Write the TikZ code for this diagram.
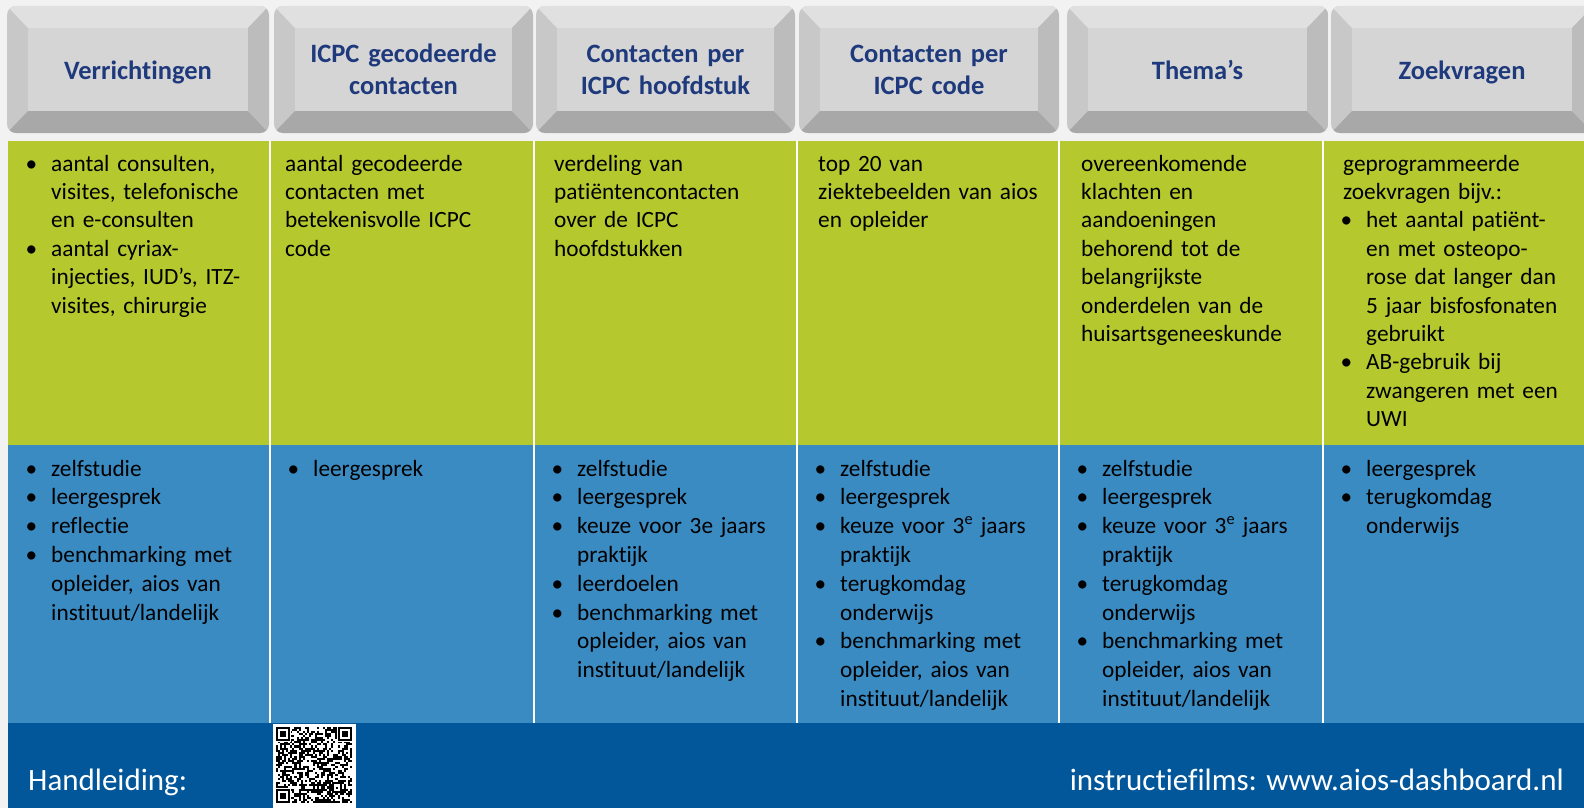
\documentclass[tikz,border=0pt]{standalone}
\usepackage{fontspec}
\setmainfont{Carlito}[Ligatures={NoCommon}]
\usetikzlibrary{calc}
\definecolor{bgc}{HTML}{F2F2F2}
\definecolor{greenc}{HTML}{B5C92F}
\definecolor{bluec}{HTML}{3B8BC3}
\definecolor{darkc}{HTML}{02569A}
\definecolor{navy}{HTML}{1F3A7C}
\definecolor{keyface}{HTML}{D5D5D5}
\definecolor{keytop}{HTML}{E0E0E0}
\definecolor{keyleft}{HTML}{C8C8C8}
\definecolor{keyright}{HTML}{BCBCBC}
\definecolor{keybot}{HTML}{A8A8A8}
\newcommand\bodyfnt{\fontsize{23.3}{28.4}\selectfont\parskip=0pt\relax}
\newcommand\bluefnt{\fontsize{23.3}{28.8}\selectfont\parskip=0pt\relax}
\newcommand\hdrfnt{\fontsize{26.5}{31.5}\selectfont\bfseries\parskip=0pt\relax}
\newlength\bulind \setlength\bulind{23pt}
\newcommand\nl{\hfil\break}
\newcommand\bulbox{\hbox to\bulind{\kern-2.6pt\textbullet\hfil}}
\newcommand\bula{\noindent\hangindent=\bulind\hangafter=1\bulbox}
\newcommand\bul{\par\noindent\hangindent=\bulind\hangafter=1\bulbox}
\newcommand\keycap[3]{%
  \begin{scope}
    \clip[rounded corners=9pt] (#1,6) rectangle (#2,133);
    \fill[keyleft] (#1,6) rectangle (#2,133);
    \fill[keytop] (#1,6) -- (#2,6) -- (#2-21,28) -- (#1+21,28) -- cycle;
    \fill[keybot] (#1,133) -- (#2,133) -- (#2-21,111) -- (#1+21,111) -- cycle;
    \fill[keyright] (#2,6) -- (#2-21,28) -- (#2-21,111) -- (#2,133) -- cycle;
    \fill[keyface] (#1+21,28) rectangle (#2-21,111);
  \end{scope}}
\tikzset{
  hdr/.style={font=\hdrfnt, text=navy, align=center, text width=240pt, inner sep=0pt, anchor=base},
  cell/.style={font=\bodyfnt, text=black, align=left, text width=250pt, inner sep=0pt, anchor=base west},
  bcell/.style={cell, font=\bluefnt},
  foot/.style={font=\fontsize{31}{36}\selectfont, text=white, inner sep=0pt},
  divider/.style={white, line width=2pt}
}
\begin{document}
\begin{tikzpicture}[x=1pt,y=-1pt]
\useasboundingbox (0,0) rectangle (1584,808);
\fill[bgc] (0,0) rectangle (1584,808);
% bands
\fill[greenc] (8,141) rectangle (1584,445);
\fill[bluec] (8,445) rectangle (1584,723);
\fill[darkc] (8,723) rectangle (1584,808);
% dividers
\foreach \x/\n in {270/d1,534/d2,797/d3,1059/d4,1323/d5}{
  \coordinate (\n t) at (\x,141);
  \coordinate (\n b) at (\x,723);
  \draw[divider] (\n t) -- (\n b);
}
% key caps
\keycap{7}{269}{1}
\keycap{274}{533}{2}
\keycap{536}{795}{3}
\keycap{799}{1059}{4}
\keycap{1067}{1328}{5}
\keycap{1331}{1593}{6}
\node[hdr] (h1) at (138,80) {Verrichtingen};
\node[hdr] (h2) at (403.5,63) {ICPC gecodeerde\\contacten};
\node[hdr] (h3) at (665.5,63) {Contacten per\\ICPC hoofdstuk};
\node[hdr] (h4) at (929,63) {Contacten per\\ICPC code};
\node[hdr] (h5) at (1197.5,80) {Thema’s};
\node[hdr] (h6) at (1462,80) {Zoekvragen};
% green row
\node[cell] (g1) at (28,171) {\bula aantal consulten,\nl visites, telefonische\nl en e-consulten\bul aantal cyriax-\nl injecties, IUD’s, ITZ-\nl visites, chirurgie\par};
\node[cell] (g2) at (285,171) {aantal gecodeerde\nl contacten met\nl betekenisvolle ICPC\nl code\par};
\node[cell] (g3) at (554,171) {verdeling van\nl patiëntencontacten\nl over de ICPC\nl hoofdstukken\par};
\node[cell] (g4) at (818,171) {top 20 van\nl ziektebeelden van aios\nl en opleider\par};
\node[cell] (g5) at (1081,171) {overeenkomende\nl klachten en\nl aandoeningen\nl behorend tot de\nl belangrijkste\nl onderdelen van de\nl huisartsgeneeskunde\par};
\node[cell] (g6) at (1343,171) {geprogrammeerde\nl zoekvragen bijv.:\bul het aantal patiënt-\nl en met osteopo-\nl rose dat langer dan\nl 5 jaar bisfosfonaten\nl gebruikt\bul AB-gebruik bij\nl zwangeren met een\nl UWI\par};
% blue row
\node[bcell] (b1) at (28,476) {\bula zelfstudie\bul leergesprek\bul reflectie\bul benchmarking met\nl opleider, aios van\nl instituut/landelijk\par};
\node[bcell] (b2) at (290,476) {\bula leergesprek\par};
\node[bcell] (b3) at (554,476) {\bula zelfstudie\bul leergesprek\bul keuze voor 3e jaars\nl praktijk\bul leerdoelen\bul benchmarking met\nl opleider, aios van\nl instituut/landelijk\par};
\node[bcell] (b4) at (817,476) {\bula zelfstudie\bul leergesprek\bul keuze voor 3\textsuperscript{e} jaars\nl praktijk\bul terugkomdag\nl onderwijs\bul benchmarking met\nl opleider, aios van\nl instituut/landelijk\par};
\node[bcell] (b5) at (1079,476) {\bula zelfstudie\bul leergesprek\bul keuze voor 3\textsuperscript{e} jaars\nl praktijk\bul terugkomdag\nl onderwijs\bul benchmarking met\nl opleider, aios van\nl instituut/landelijk\par};
\node[bcell] (b6) at (1343,476) {\bula leergesprek\bul terugkomdag\nl onderwijs\par};
% footer
\node[foot, anchor=base west] (hand) at (28,790) {Handleiding:};
\node[foot, anchor=base east] (films) at (1564,790) {instructiefilms: www.aios-dashboard.nl};
% QR code
\fill[white] (273,724) rectangle (356,808);
\pgfmathsetseed{4711}
\foreach \i in {0,...,36}{
  \foreach \j in {0,...,36}{
    \pgfmathrandominteger{\r}{0}{1}
    \ifnum\r=1 \fill[black] ({276+\i*2.05},{727+\j*2.05}) rectangle ++(2.05,2.05);\fi
  }
}
\foreach \fx/\fy in {276/727, 337.7/727, 276/788.5}{
  \fill[white] ({\fx-0.5},{\fy-0.5}) rectangle ++(15.4,15.4);
  \fill[black] (\fx,\fy) rectangle ++(14.35,14.35);
  \fill[white] ({\fx+2.05},{\fy+2.05}) rectangle ++(10.25,10.25);
  \fill[black] ({\fx+4.1},{\fy+4.1}) rectangle ++(6.15,6.15);
}
\fill[black] (331.5,782.4) rectangle ++(10.25,10.25);
\fill[white] (333.55,784.45) rectangle ++(6.15,6.15);
\fill[black] (335.6,786.5) rectangle ++(2.05,2.05);
\end{tikzpicture}
\end{document}
